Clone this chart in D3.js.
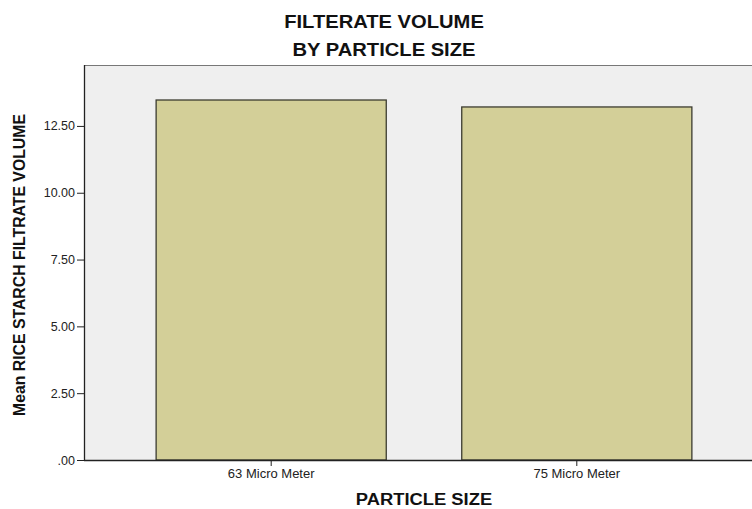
<!DOCTYPE html>
<html><head><meta charset="utf-8">
<script src="https://cdn.jsdelivr.net/npm/d3@7"></script>
<style>
html,body{margin:0;padding:0;background:#fff;}
svg{display:block;font-family:Arial,"Liberation Sans",sans-serif;}
</style></head>
<body>
<svg id="chart" width="752" height="509"></svg>
<script>
const categories = ["63 Micro Meter", "75 Micro Meter"];
const values = [13.47, 13.21];
const yTicks = [0, 2.5, 5, 7.5, 10, 12.5];
const titleLines = ["FILTERATE VOLUME", "BY PARTICLE SIZE"];
const xTitle = "PARTICLE SIZE";
const yTitle = "Mean RICE STARCH FILTRATE VOLUME";

(function () {
const svg = d3.select("#chart");
const pL = 84, pT = 65, pB = 460, pR = 764;

const y = d3.scaleLinear().domain([0, 14.78]).range([pB, pT]);
const x = d3.scaleBand().domain(categories).range([pL, pR])
  .paddingInner(0.247).paddingOuter(0.236);

// plot background
svg.append("rect").attr("x", pL).attr("y", pT)
  .attr("width", pR - pL).attr("height", pB - pT)
  .attr("fill", "#efefef");

// bars
svg.selectAll("rect.bar").data(values).join("rect").attr("class", "bar")
  .attr("x", (d, i) => x(categories[i]))
  .attr("y", d => y(d))
  .attr("width", x.bandwidth())
  .attr("height", d => y(0) - y(d))
  .attr("fill", "#d3cf98")
  .attr("stroke", "#3c3c30").attr("stroke-width", 1.3);

// top border
svg.append("line").attr("x1", pL).attr("x2", pR).attr("y1", pT + 0.5).attr("y2", pT + 0.5)
  .attr("stroke", "#777").attr("stroke-width", 1);

// y axis
const yAxis = d3.axisLeft(y).tickValues(yTicks).tickSize(7).tickPadding(2)
  .tickFormat(d => d === 0 ? ".00" : d3.format(".2f")(d));
const gy = svg.append("g").attr("transform", `translate(${pL},0)`).call(yAxis);
gy.select(".domain").attr("stroke", "#222").attr("stroke-width", 1.3).attr("d", `M0.5,${pT}V${pB}`);
gy.selectAll(".tick line").attr("stroke", "#222");
gy.selectAll(".tick text").attr("font-size", "12.5px").attr("fill", "#222")
  .attr("font-family", "Arial, 'Liberation Sans', sans-serif");

// x axis
const xAxis = d3.axisBottom(x).tickSize(6).tickPadding(3);
const gx = svg.append("g").attr("transform", `translate(0,${pB})`).call(xAxis);
gx.select(".domain").attr("stroke", "#222").attr("stroke-width", 1.3).attr("d", `M${pL},0.5H${752}`);
gx.selectAll(".tick line").attr("stroke", "#222");
gx.selectAll(".tick text").attr("font-size", "13px").attr("fill", "#222")
  .attr("font-family", "Arial, 'Liberation Sans', sans-serif");

// titles
svg.selectAll("text.title").data(titleLines).join("text").attr("class", "title")
  .attr("transform", (d, i) => `translate(384,${28 + i * 28}) scale(1.12,1)`)
  .attr("text-anchor", "middle").attr("font-weight", "bold").attr("font-size", "18px")
  .attr("fill", "#111").text(d => d);

svg.append("text").attr("transform", "translate(424,505) scale(1.08,1)").attr("text-anchor", "middle")
  .attr("font-weight", "bold").attr("font-size", "17px").attr("fill", "#111").text(xTitle);

svg.append("text").attr("transform", "translate(25,265) rotate(-90)").attr("text-anchor", "middle")
  .attr("font-weight", "bold").attr("font-size", "15.8px").attr("fill", "#111").text(yTitle);
})();
</script>
</body></html>
